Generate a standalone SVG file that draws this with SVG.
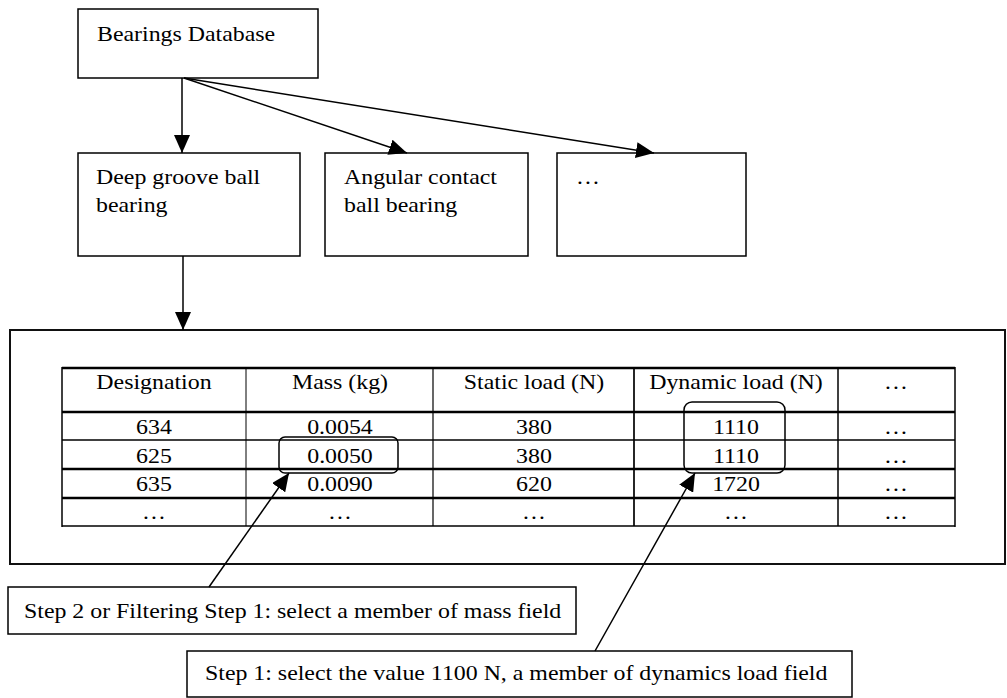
<svg xmlns="http://www.w3.org/2000/svg" width="1007" height="698" viewBox="0 0 1007 698">
<defs>
<style>
text{font-family:"Liberation Serif","Times New Roman",serif;font-size:22px;fill:#000;transform-box:fill-box;transform-origin:left center;transform:scaleX(1.085)}
text.c{text-anchor:middle;transform-origin:center center}
.box{fill:#fff;stroke:#000;stroke-width:1.5}
.ln{stroke:#000;stroke-width:1.5;fill:none}
.hl{fill:none;stroke:#000;stroke-width:1.5}
</style>
<marker id="ah" viewBox="0 0 18 16" refX="18" refY="8" markerWidth="18" markerHeight="16" markerUnits="userSpaceOnUse" orient="auto">
<path d="M0,0 L18,8 L0,16 z" fill="#000"/>
</marker>
</defs>
<rect width="1007" height="698" fill="#fff"/>

<g id="bearings-db">
<rect class="box" x="78" y="9" width="240" height="69"/>
<text x="97" y="41">Bearings Database</text>
</g>

<g id="deep-groove">
<rect class="box" x="78" y="153" width="222" height="103"/>
<text x="96" y="184">Deep groove ball</text>
<text x="96" y="212">bearing</text>
</g>

<g id="angular-contact">
<rect class="box" x="325" y="153" width="203" height="103"/>
<text x="344" y="184">Angular contact</text>
<text x="344" y="212">ball bearing</text>
</g>

<g id="other-types">
<rect class="box" x="557" y="153" width="189" height="103"/>
<text x="576" y="184">…</text>
</g>

<g id="table-panel">
<rect x="10" y="330" width="995" height="234" fill="#fff" stroke="#111" stroke-width="2"/>
<g id="table">
<line x1="62" y1="368" x2="955" y2="368" stroke="#000" stroke-width="2.5"/>
<line x1="62" y1="412" x2="955" y2="412" stroke="#000" stroke-width="2.5"/>
<line x1="62" y1="440" x2="955" y2="440" stroke="#000" stroke-width="1.3"/>
<line x1="62" y1="469" x2="955" y2="469" stroke="#000" stroke-width="2.5"/>
<line x1="62" y1="498" x2="955" y2="498" stroke="#000" stroke-width="2.5"/>
<line x1="62" y1="526" x2="955" y2="526" stroke="#000" stroke-width="1.5"/>
<line x1="62" y1="367" x2="62" y2="527" stroke="#000" stroke-width="1.5"/>
<line x1="246" y1="368" x2="246" y2="526" stroke="#000" stroke-width="1"/>
<line x1="433" y1="368" x2="433" y2="526" stroke="#000" stroke-width="1.2"/>
<line x1="634" y1="368" x2="634" y2="526" stroke="#000" stroke-width="1.7"/>
<line x1="838" y1="368" x2="838" y2="526" stroke="#000" stroke-width="1.5"/>
<line x1="955" y1="367" x2="955" y2="527" stroke="#000" stroke-width="1.5"/>

<text class="c" x="154" y="389">Designation</text>
<text class="c" x="340" y="389">Mass (kg)</text>
<text class="c" x="534" y="389">Static load (N)</text>
<text class="c" x="736" y="389">Dynamic load (N)</text>
<text class="c" x="896" y="389">…</text>

<text class="c" x="154" y="434">634</text>
<text class="c" x="340" y="434">0.0054</text>
<text class="c" x="534" y="434">380</text>
<text class="c" x="736" y="434">1110</text>
<text class="c" x="896" y="434">…</text>

<text class="c" x="154" y="463">625</text>
<text class="c" x="340" y="463">0.0050</text>
<text class="c" x="534" y="463">380</text>
<text class="c" x="736" y="463">1110</text>
<text class="c" x="896" y="463">…</text>

<text class="c" x="154" y="491">635</text>
<text class="c" x="340" y="491">0.0090</text>
<text class="c" x="534" y="491">620</text>
<text class="c" x="736" y="491">1720</text>
<text class="c" x="896" y="491">…</text>

<text class="c" x="154" y="519">…</text>
<text class="c" x="340" y="519">…</text>
<text class="c" x="534" y="519">…</text>
<text class="c" x="736" y="519">…</text>
<text class="c" x="896" y="519">…</text>
</g>
<rect id="mass-highlight" class="hl" x="279" y="437" width="119" height="36" rx="6"/>
<rect id="dynamic-highlight" class="hl" x="684" y="402" width="101" height="71" rx="8"/>
</g>

<g id="step2-note">
<rect class="box" x="8" y="587" width="568" height="47"/>
<text x="24" y="618">Step 2 or Filtering Step 1: select a member of mass field</text>
</g>

<g id="step1-note">
<rect class="box" x="187" y="651" width="665" height="46"/>
<text x="205" y="680">Step 1: select the value 1100 N, a member of dynamics load field</text>
</g>

<g id="connectors">
<line class="ln" x1="182" y1="78" x2="182" y2="153" marker-end="url(#ah)"/>
<line class="ln" x1="184" y1="78" x2="407" y2="153" marker-end="url(#ah)"/>
<line class="ln" x1="184" y1="78" x2="654" y2="153" marker-end="url(#ah)"/>
<line class="ln" x1="183" y1="256" x2="183" y2="330" marker-end="url(#ah)"/>
<line class="ln" x1="209" y1="587" x2="289" y2="473" marker-end="url(#ah)"/>
<line class="ln" x1="595" y1="651" x2="695" y2="473" marker-end="url(#ah)"/>
</g>
</svg>
